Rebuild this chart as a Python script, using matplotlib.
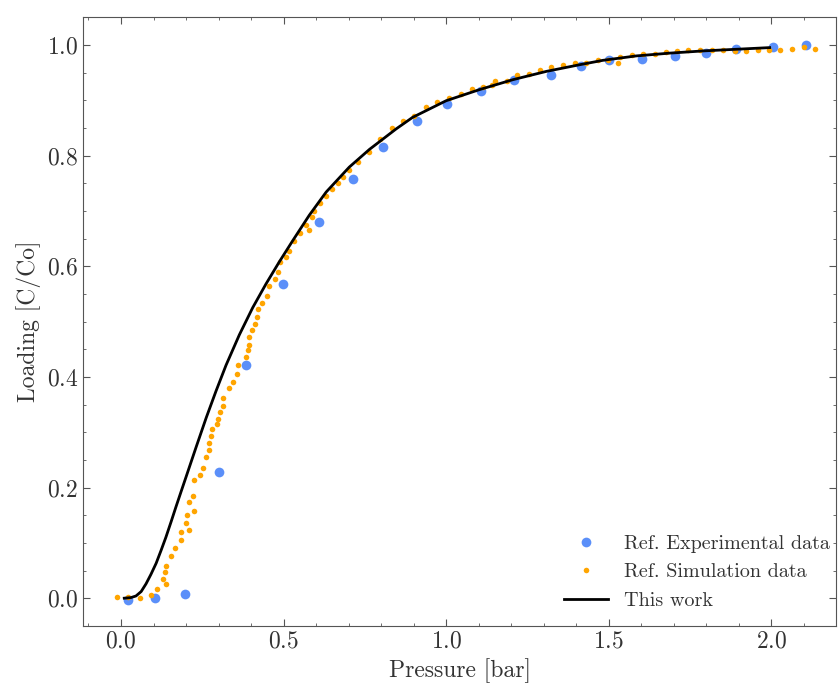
import matplotlib
matplotlib.use("Agg")
import matplotlib.pyplot as plt
from matplotlib.ticker import MultipleLocator

# reference experimental data
exp_p = [0.02, 0.106, 0.198, 0.30, 0.384, 0.499, 0.610, 0.714, 0.806, 0.910,
         1.004, 1.107, 1.209, 1.322, 1.416, 1.50, 1.603, 1.705, 1.798, 1.892,
         2.004, 2.108]
exp_c = [-0.004, 0.0, 0.008, 0.228, 0.421, 0.568, 0.680, 0.758, 0.816, 0.863,
         0.893, 0.917, 0.936, 0.946, 0.962, 0.972, 0.975, 0.979, 0.985, 0.992,
         0.996, 0.999]

# reference simulation data
sim_p = [-0.012, 0.022, 0.059, 0.092, 0.112, 0.129, 0.138, 0.136, 0.138, 0.154,
         0.166, 0.183, 0.185, 0.208, 0.200, 0.203, 0.226, 0.208, 0.220, 0.226,
         0.244, 0.251, 0.262, 0.270, 0.272, 0.277, 0.279, 0.294, 0.297, 0.305,
         0.315, 0.313, 0.331, 0.343, 0.357, 0.359, 0.385, 0.392, 0.393, 0.395,
         0.404, 0.411, 0.418, 0.420, 0.435, 0.449, 0.456, 0.474, 0.484, 0.489,
         0.508, 0.518, 0.533, 0.549, 0.577, 0.569, 0.586, 0.595, 0.613, 0.631,
         0.648, 0.666, 0.684, 0.702, 0.728, 0.762, 0.797, 0.833, 0.866, 0.900,
         0.938, 0.972, 1.009, 1.046, 1.078, 1.113, 1.142, 1.150, 1.186, 1.219,
         1.256, 1.290, 1.323, 1.359, 1.395, 1.431, 1.466, 1.499, 1.528, 1.535,
         1.571, 1.605, 1.642, 1.677, 1.710, 1.745, 1.781, 1.818, 1.853, 1.888,
         1.923, 1.958, 1.993, 2.028, 2.064, 2.100, 2.135]
sim_c = [0.002, 0.002, 0.001, 0.005, 0.017, 0.034, 0.025, 0.047, 0.059, 0.077,
         0.091, 0.106, 0.120, 0.124, 0.136, 0.151, 0.158, 0.173, 0.184, 0.213,
         0.223, 0.235, 0.256, 0.268, 0.280, 0.293, 0.305, 0.314, 0.323, 0.336,
         0.348, 0.361, 0.379, 0.391, 0.406, 0.422, 0.436, 0.448, 0.458, 0.472,
         0.484, 0.496, 0.509, 0.522, 0.534, 0.547, 0.565, 0.577, 0.589, 0.608,
         0.617, 0.627, 0.645, 0.660, 0.666, 0.675, 0.688, 0.700, 0.714, 0.727,
         0.740, 0.750, 0.761, 0.774, 0.789, 0.807, 0.829, 0.849, 0.863, 0.872,
         0.887, 0.897, 0.904, 0.912, 0.920, 0.923, 0.928, 0.935, 0.934, 0.946,
         0.948, 0.954, 0.960, 0.964, 0.967, 0.967, 0.972, 0.972, 0.968, 0.978,
         0.981, 0.983, 0.984, 0.987, 0.988, 0.990, 0.991, 0.991, 0.991, 0.989,
         0.989, 0.990, 0.990, 0.990, 0.993, 0.996, 0.993]

# this work (model curve)
model_p = [0.010, 0.030, 0.046, 0.062, 0.077, 0.092, 0.108, 0.123, 0.138, 0.154,
           0.169, 0.185, 0.200, 0.231, 0.262, 0.292, 0.323, 0.364, 0.405, 0.446,
           0.487, 0.528, 0.579, 0.631, 0.702, 0.764, 0.846, 0.897, 1.0, 1.102,
           1.205, 1.308, 1.410, 1.482, 1.585, 1.687, 1.790, 1.892, 1.995]
model_c = [0.000, 0.001, 0.004, 0.012, 0.026, 0.043, 0.063, 0.086, 0.110, 0.138,
           0.165, 0.193, 0.219, 0.273, 0.326, 0.374, 0.421, 0.476, 0.525, 0.568,
           0.608, 0.646, 0.692, 0.734, 0.779, 0.811, 0.848, 0.869, 0.899, 0.919,
           0.937, 0.952, 0.964, 0.972, 0.980, 0.985, 0.989, 0.992, 0.995]

plt.rcParams["font.family"] = "serif"
plt.rcParams["font.serif"] = ["cmr10"]
plt.rcParams["mathtext.fontset"] = "cm"
plt.rcParams["axes.formatter.use_mathtext"] = True

txt = "#333333"
fig = plt.figure(figsize=(8.38, 6.87), dpi=100)
ax = fig.add_axes([0.099, 0.089, 0.899, 0.886])

ax.plot(exp_p, exp_c, "o", color="#5b8ff9", ms=7, mec="none", label="Ref. Experimental data")
ax.plot(sim_p, sim_c, "o", color="#ffa500", ms=4, mec="none", label="Ref. Simulation data")
ax.plot(model_p, model_c, "-", color="black", lw=2, label="This work",
        solid_joinstyle="round")

ax.set_xlim(-0.117, 2.2)
ax.set_ylim(-0.05, 1.05)
ax.xaxis.set_major_locator(MultipleLocator(0.5))
ax.xaxis.set_minor_locator(MultipleLocator(0.1))
ax.yaxis.set_major_locator(MultipleLocator(0.2))
ax.yaxis.set_minor_locator(MultipleLocator(0.05))
ax.tick_params(which="both", direction="in", top=True, right=True, colors="#555555",
               labelcolor=txt, labelsize=17)
ax.tick_params(which="major", length=5)
ax.tick_params(which="minor", length=2.5)
for s in ax.spines.values():
    s.set_color("#555555")

ax.set_xlabel("Pressure [bar]", fontsize=17, color=txt)
ax.set_ylabel("Loading [C/Co]", fontsize=17, color=txt)

ax.legend(loc="lower right", bbox_to_anchor=(1.0106, 0.0033), frameon=False,
          fontsize=14.5, labelspacing=0.52, handlelength=2.2, borderaxespad=0.3,
          labelcolor=txt)

fig.savefig("out.png", dpi=100)
